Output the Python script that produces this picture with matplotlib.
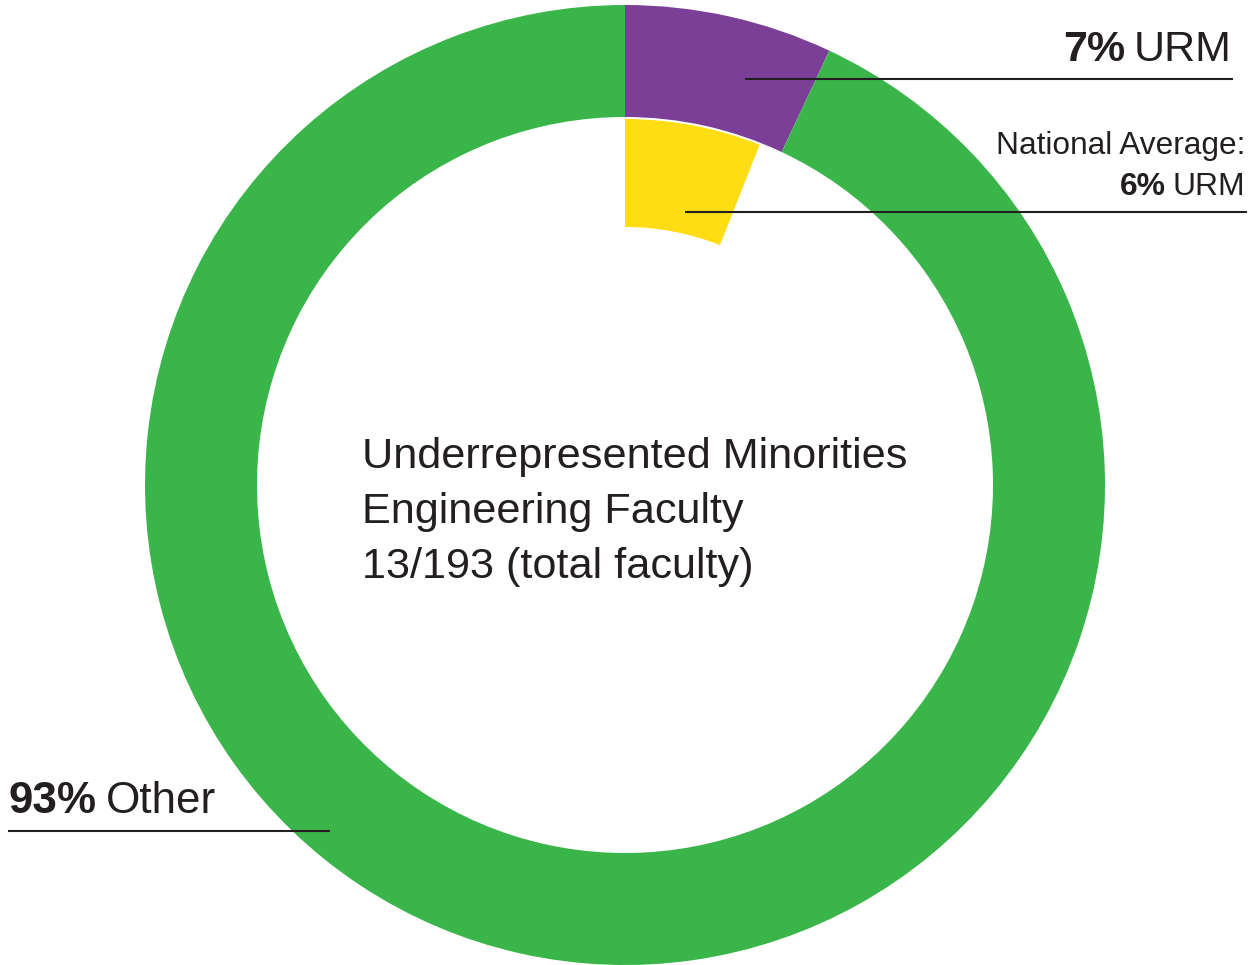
import math
import matplotlib
matplotlib.use("Agg")
import matplotlib.pyplot as plt

# data
faculty_labels = ["URM", "Other"]
faculty_share = [7, 93]
national_labels = ["URM", "rest"]
national_share = [6, 94]
center_lines = ["Underrepresented Minorities", "Engineering Faculty", "13/193 (total faculty)"]

PURPLE = "#7B3F98"
GREEN = "#3AB54A"
YELLOW = "#FFDD15"
INK = "#231F20"
FONT = ["Liberation Sans", "DejaVu Sans"]

W, H = 1249, 965
fig = plt.figure(figsize=(W / 100, H / 100), dpi=100)
ax = fig.add_axes([0, 0, 1, 1])

# outer ring: this school's faculty
ax.pie(faculty_share, radius=480, center=(625, 480), startangle=90, counterclock=False,
       colors=[PURPLE, GREEN], wedgeprops=dict(width=112, linewidth=0))
# inner wedge: national average
ax.pie(national_share, radius=366, center=(625, 480), startangle=90, counterclock=False,
       colors=[YELLOW, "none"], wedgeprops=dict(width=108, linewidth=0))

ax.set_xlim(0, W)
ax.set_ylim(0, H)
ax.set_aspect("auto")
ax.axis("off")

renderer = fig.canvas.get_renderer()


def fitted_size(s, size, target_w):
    # the original uses a condensed face; split the difference between height and width
    t = ax.text(0, 0, s, fontsize=size, family=FONT)
    w = t.get_window_extent(renderer).width
    t.remove()
    return size * math.sqrt(target_w / w)


def two_part(x, y, bold, regular, size, target_w, align="right"):
    size = fitted_size(bold + " " + regular, size, target_w)
    gap = size * 0.3
    if align == "right":
        t = ax.text(x, y, regular, ha="right", va="baseline", fontsize=size,
                    family=FONT, color=INK)
        bb = t.get_window_extent(renderer)
        ax.text(bb.x0 - gap, y, bold, ha="right", va="baseline", fontsize=size,
                family=FONT, fontweight="bold", color=INK)
    else:
        t = ax.text(x, y, bold, ha="left", va="baseline", fontsize=size,
                    family=FONT, fontweight="bold", color=INK)
        bb = t.get_window_extent(renderer)
        ax.text(bb.x1 + gap, y, regular, ha="left", va="baseline", fontsize=size,
                family=FONT, color=INK)


# 7% URM
two_part(1232, H - 61, f"{faculty_share[0]}%", faculty_labels[0], 37, 144)
ax.plot([745, 1233], [H - 79, H - 79], color=INK, lw=1.5, solid_capstyle="butt")

# national average
s = fitted_size("National Average:", 27, 210)
ax.text(1245, H - 154, "National Average:", ha="right", va="baseline", fontsize=s,
        family=FONT, color=INK)
two_part(1245, H - 195, f"{national_share[0]}%", national_labels[0], 27, 109)
ax.plot([685, 1247], [H - 212, H - 212], color=INK, lw=1.5, solid_capstyle="butt")

# 93% Other
two_part(8, H - 813, f"{faculty_share[1]}%", faculty_labels[1], 37, 180, align="left")
ax.plot([8, 330], [H - 831, H - 831], color=INK, lw=1.5, solid_capstyle="butt")

# centre caption
s = fitted_size(center_lines[0], 37, 458)
for i, line in enumerate(center_lines):
    ax.text(362, H - 468 - 55 * i, line, ha="left", va="baseline", fontsize=s,
            family=FONT, color=INK)

fig.savefig("out.png", dpi=100)
